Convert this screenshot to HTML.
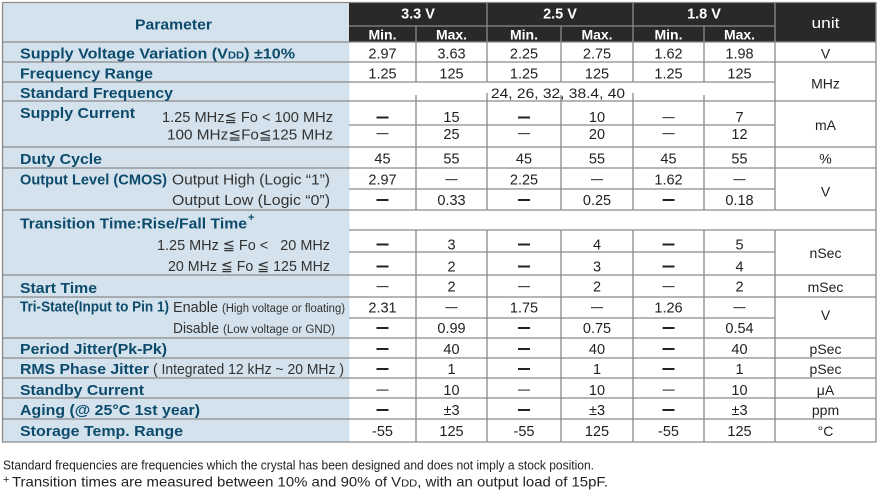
<!DOCTYPE html>
<html><head><meta charset="utf-8"><style>
html,body{margin:0;padding:0;background:#fff;}
svg{display:block;}
text{font-family:"Liberation Sans",Arial,"DejaVu Sans",sans-serif;}
.b{font-weight:bold;font-size:15px;fill:#0d4b6c;}
.s{font-size:15px;fill:#333;}
.d{font-size:14.5px;fill:#222;text-anchor:middle;}
.h{font-size:14.5px;fill:#fff;font-weight:bold;text-anchor:middle;}
.u{font-size:14px;fill:#222;text-anchor:middle;}
</style></head><body>
<svg width="879" height="493" viewBox="0 0 879 493" xmlns="http://www.w3.org/2000/svg">
<rect x="0" y="0" width="879" height="493" fill="#fff"/>
<rect x="2.5" y="2.5" width="347" height="439.5" fill="#d3e2ec"/>
<rect x="349" y="2.5" width="527" height="39.5" fill="#2b2828"/>
<g stroke="#8a8a8a" stroke-width="1.3" fill="none">
<path d="M2 2.5H876.5M2 42H876.5M2 62H876.5M2 101H876.5M2 147H876.5M2 168H876.5M2 210H876.5M2 275H876.5M2 297H876.5M2 338H876.5M2 358H876.5M2 378H876.5M2 398H876.5M2 419H876.5M2 442H876.5"/>
<path d="M2 82H775M349 125H775M349 189H775M349 252H775M349 318H775M349 230H876.5M349 26H775"/>
<path d="M2.5 2.5V442M876 2.5V442M775 2.5V210M775 230V442"/>
<path d="M487 2.5V82M487 93V210M487 230V442M633 2.5V82M633 93V210M633 230V442"/>
<path d="M416 26V82M416 95V210M416 230V442M561 26V82M561 95V210M561 230V442M704 26V82M704 95V210M704 230V442"/>
</g>

<!-- header -->
<text class="b" x="173.5" y="29.5" text-anchor="middle" textLength="77" lengthAdjust="spacingAndGlyphs">Parameter</text>
<text class="h" x="418" y="18.5">3.3 V</text>
<text class="h" x="560" y="18.5">2.5 V</text>
<text class="h" x="704" y="18.5">1.8 V</text>
<text class="h" x="382.5" y="39.3" style="font-size:14px">Min.</text>
<text class="h" x="451.5" y="39.3" style="font-size:14px">Max.</text>
<text class="h" x="524" y="39.3" style="font-size:14px">Min.</text>
<text class="h" x="597" y="39.3" style="font-size:14px">Max.</text>
<text class="h" x="668.5" y="39.3" style="font-size:14px">Min.</text>
<text class="h" x="739.5" y="39.3" style="font-size:14px">Max.</text>
<text x="825.5" y="28" fill="#fff" font-size="15" text-anchor="middle" textLength="28" lengthAdjust="spacingAndGlyphs">unit</text>

<!-- left labels -->
<text class="b" x="20" y="58.5" textLength="275" lengthAdjust="spacingAndGlyphs">Supply Voltage Variation (V<tspan font-size="10.5">DD</tspan>) ±10%</text>
<text class="b" x="20" y="78.3" textLength="133" lengthAdjust="spacingAndGlyphs">Frequency Range</text>
<text class="b" x="20" y="98" textLength="153" lengthAdjust="spacingAndGlyphs">Standard Frequency</text>
<text class="b" x="20" y="118" textLength="115" lengthAdjust="spacingAndGlyphs">Supply Current</text>
<text class="s" x="162" y="122" textLength="171" lengthAdjust="spacingAndGlyphs">1.25 MHz≦ Fo &lt; 100 MHz</text>
<text class="s" x="167" y="139.3" textLength="166" lengthAdjust="spacingAndGlyphs">100 MHz≦Fo≦125 MHz</text>
<text class="b" x="20" y="164" textLength="82" lengthAdjust="spacingAndGlyphs">Duty Cycle</text>
<text class="b" x="20" y="184.5" textLength="147" lengthAdjust="spacingAndGlyphs">Output Level (CMOS)</text>
<text class="s" x="172" y="184.5" textLength="158" lengthAdjust="spacingAndGlyphs">Output High (Logic “1”)</text>
<text class="s" x="172" y="205" textLength="158" lengthAdjust="spacingAndGlyphs">Output Low  (Logic “0”)</text>
<text class="b" x="20" y="228.5" textLength="227" lengthAdjust="spacingAndGlyphs">Transition Time:Rise/Fall Time</text>
<text x="248" y="221" font-size="11" font-weight="bold" fill="#0d4b6c">+</text>
<text class="s" x="157" y="250" textLength="173" lengthAdjust="spacingAndGlyphs">1.25 MHz ≦ Fo &lt;&#160;&#160; 20 MHz</text>
<text class="s" x="168" y="271" textLength="162" lengthAdjust="spacingAndGlyphs">20 MHz ≦ Fo ≦ 125 MHz</text>
<text class="b" x="20" y="293" textLength="77" lengthAdjust="spacingAndGlyphs">Start Time</text>
<text class="b" x="20" y="311.5" textLength="149" lengthAdjust="spacingAndGlyphs">Tri-State(Input to Pin 1)</text>
<text class="s" x="173" y="312" textLength="45" lengthAdjust="spacingAndGlyphs">Enable</text>
<text class="s" x="222" y="312" style="font-size:11.5px" textLength="123" lengthAdjust="spacingAndGlyphs">(High voltage or floating)</text>
<text class="s" x="173" y="333" textLength="46" lengthAdjust="spacingAndGlyphs">Disable</text>
<text class="s" x="223" y="333" style="font-size:11.5px" textLength="112" lengthAdjust="spacingAndGlyphs">(Low voltage or GND)</text>
<text class="b" x="20" y="354" textLength="147" lengthAdjust="spacingAndGlyphs">Period Jitter(Pk-Pk)</text>
<text class="b" x="20" y="374" textLength="129" lengthAdjust="spacingAndGlyphs">RMS Phase Jitter</text>
<text class="s" x="153" y="374" textLength="191" lengthAdjust="spacingAndGlyphs">( Integrated 12 kHz ~ 20 MHz )</text>
<text class="b" x="20" y="395" textLength="124" lengthAdjust="spacingAndGlyphs">Standby Current</text>
<text class="b" x="20" y="415" textLength="180" lengthAdjust="spacingAndGlyphs">Aging (@ 25°C 1st year)</text>
<text class="b" x="20" y="436" textLength="163" lengthAdjust="spacingAndGlyphs">Storage Temp. Range</text>

<!-- data -->
<g>
<text class="d" x="382.5" y="58.5">2.97</text><text class="d" x="451.5" y="58.5">3.63</text><text class="d" x="524" y="58.5">2.25</text><text class="d" x="597" y="58.5">2.75</text><text class="d" x="668.5" y="58.5">1.62</text><text class="d" x="739.5" y="58.5">1.98</text><text class="u" x="825.5" y="58.5">V</text>
<text class="d" x="382.5" y="78.3">1.25</text><text class="d" x="451.5" y="78.3">125</text><text class="d" x="524" y="78.3">1.25</text><text class="d" x="597" y="78.3">125</text><text class="d" x="668.5" y="78.3">1.25</text><text class="d" x="739.5" y="78.3">125</text>
<text class="u" x="825.5" y="88.5">MHz</text>
<text x="491" y="98" font-size="14" fill="#222" textLength="134" lengthAdjust="spacingAndGlyphs">24, 26, 32, 38.4, 40</text>
<text class="d" x="451.5" y="122">15</text><text class="d" x="597" y="122">10</text><text class="d" x="739.5" y="122">7</text>
<text class="d" x="451.5" y="139">25</text><text class="d" x="597" y="139">20</text><text class="d" x="739.5" y="139">12</text>
<text class="u" x="825.5" y="130">mA</text>
<text class="d" x="382.5" y="163.7">45</text><text class="d" x="451.5" y="163.7">55</text><text class="d" x="524" y="163.7">45</text><text class="d" x="597" y="163.7">55</text><text class="d" x="668.5" y="163.7">45</text><text class="d" x="739.5" y="163.7">55</text><text class="u" x="825.5" y="163.7">%</text>
<text class="d" x="382.5" y="184.5">2.97</text><text class="d" x="524" y="184.5">2.25</text><text class="d" x="668.5" y="184.5">1.62</text>
<text class="d" x="451.5" y="205">0.33</text><text class="d" x="597" y="205">0.25</text><text class="d" x="739.5" y="205">0.18</text>
<text class="u" x="825.5" y="196.5">V</text>
<text class="d" x="451.5" y="249.5">3</text><text class="d" x="597" y="249.5">4</text><text class="d" x="739.5" y="249.5">5</text>
<text class="d" x="451.5" y="271.5">2</text><text class="d" x="597" y="271.5">3</text><text class="d" x="739.5" y="271.5">4</text>
<text class="u" x="825.5" y="258">nSec</text>
<text class="d" x="451.5" y="291.5">2</text><text class="d" x="597" y="291.5">2</text><text class="d" x="739.5" y="291.5">2</text><text class="u" x="825.5" y="292">mSec</text>
<text class="d" x="382.5" y="312.5">2.31</text><text class="d" x="524" y="312.5">1.75</text><text class="d" x="668.5" y="312.5">1.26</text>
<text class="d" x="451.5" y="333">0.99</text><text class="d" x="597" y="333">0.75</text><text class="d" x="739.5" y="333">0.54</text>
<text class="u" x="825.5" y="320">V</text>
<text class="d" x="451.5" y="354">40</text><text class="d" x="597" y="354">40</text><text class="d" x="739.5" y="354">40</text><text class="u" x="825.5" y="354">pSec</text>
<text class="d" x="451.5" y="374">1</text><text class="d" x="597" y="374">1</text><text class="d" x="739.5" y="374">1</text><text class="u" x="825.5" y="374">pSec</text>
<text class="d" x="451.5" y="395">10</text><text class="d" x="597" y="395">10</text><text class="d" x="739.5" y="395">10</text><text class="u" x="825.5" y="395">μA</text>
<text class="d" x="451.5" y="415">±3</text><text class="d" x="597" y="415">±3</text><text class="d" x="739.5" y="415">±3</text><text class="u" x="825.5" y="415">ppm</text>
<text class="d" x="382.5" y="436">-55</text><text class="d" x="451.5" y="436">125</text><text class="d" x="524" y="436">-55</text><text class="d" x="597" y="436">125</text><text class="d" x="668.5" y="436">-55</text><text class="d" x="739.5" y="436">125</text><text class="u" x="825.5" y="436">°C</text>
</g>

<!-- dashes: bold -->
<g fill="#222">
<rect x="376.5" y="116.5" width="12" height="2"/><rect x="518" y="116.5" width="12" height="2"/>
<rect x="376.5" y="199" width="12" height="2"/><rect x="518" y="199" width="12" height="2"/><rect x="662.5" y="199" width="12" height="2"/>
<rect x="376.5" y="243.5" width="12" height="2"/><rect x="518" y="243.5" width="12" height="2"/><rect x="662.5" y="243.5" width="12" height="2"/>
<rect x="376.5" y="265.5" width="12" height="2"/><rect x="518" y="265.5" width="12" height="2"/><rect x="662.5" y="265.5" width="12" height="2"/>
<rect x="376.5" y="327" width="12" height="2"/><rect x="518" y="327" width="12" height="2"/><rect x="662.5" y="327" width="12" height="2"/>
<rect x="376.5" y="348" width="12" height="2"/><rect x="518" y="348" width="12" height="2"/><rect x="662.5" y="348" width="12" height="2"/>
<rect x="376.5" y="368" width="12" height="2"/><rect x="518" y="368" width="12" height="2"/><rect x="662.5" y="368" width="12" height="2"/>
<rect x="376.5" y="409" width="12" height="2"/><rect x="518" y="409" width="12" height="2"/><rect x="662.5" y="409" width="12" height="2"/>
</g>
<!-- dashes: thin -->
<g fill="#444">
<rect x="662.5" y="117" width="12" height="1.2"/>
<rect x="376.5" y="133" width="12" height="1.2"/><rect x="518" y="133" width="12" height="1.2"/><rect x="662.5" y="133" width="12" height="1.2"/>
<rect x="445.5" y="179" width="12" height="1.2"/><rect x="591" y="179" width="12" height="1.2"/><rect x="733.5" y="179" width="12" height="1.2"/>
<rect x="376.5" y="286" width="12" height="1.2"/><rect x="518" y="286" width="12" height="1.2"/><rect x="662.5" y="286" width="12" height="1.2"/>
<rect x="445.5" y="307" width="12" height="1.2"/><rect x="591" y="307" width="12" height="1.2"/><rect x="733.5" y="307" width="12" height="1.2"/>
<rect x="376.5" y="389.5" width="12" height="1.2"/><rect x="518" y="389.5" width="12" height="1.2"/><rect x="662.5" y="389.5" width="12" height="1.2"/>
</g>

<!-- footnotes -->
<text x="3" y="469.5" font-size="13" fill="#222" textLength="591" lengthAdjust="spacingAndGlyphs">Standard frequencies are frequencies which the crystal has been designed and does not imply a stock position.</text>
<text x="3" y="483" font-size="11" fill="#222">+</text>
<text x="12" y="486.5" font-size="14" fill="#222" textLength="596" lengthAdjust="spacingAndGlyphs">Transition times are measured between 10% and 90% of V<tspan font-size="10.5">DD</tspan>, with an output load of 15pF.</text>
</svg>
</body></html>
